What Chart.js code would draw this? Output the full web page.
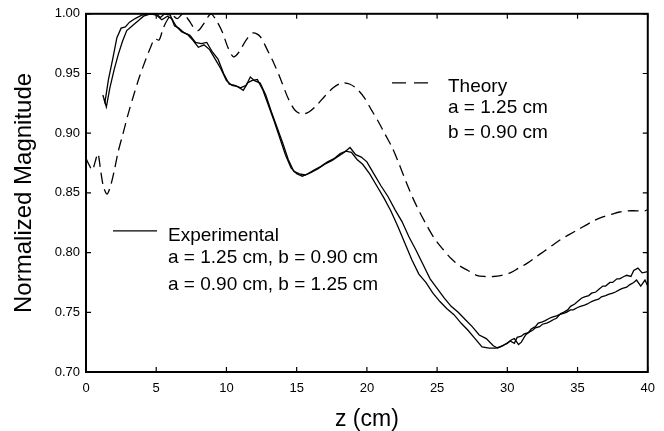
<!DOCTYPE html>
<html>
<head>
<meta charset="utf-8">
<script src="https://cdn.jsdelivr.net/npm/chart.js@4.4.1/dist/chart.umd.min.js"></script>
<style>
  body { margin: 0; background: #fff; }
  canvas { display: block; }
</style>
</head>
<body>
<canvas id="myChart" width="664" height="431"></canvas>
<script>
// theory curve (a = 1.25 cm, b = 0.90 cm)
var theoryZ = [0, 0.2, 0.45, 0.65, 0.85, 1.05, 1.25, 1.5, 1.75, 2.0, 2.3, 2.6, 3.0, 3.4, 3.8, 4.2, 4.6, 4.9, 5.2, 5.5,
  5.8, 6.1, 6.5, 6.9, 7.3, 7.7, 8.0, 8.4, 8.9, 9.3, 9.7, 10.1, 10.5, 10.9, 11.4, 11.9, 12.4, 12.9, 13.4, 13.9,
  14.4, 14.9, 15.4, 15.9, 16.4, 17.0, 17.6, 18.2, 18.8, 19.3, 19.8, 20.3, 20.8, 21.3, 21.8, 22.3, 22.8, 23.3, 23.8, 24.3,
  24.8, 25.4, 26.0, 26.6, 27.2, 27.8, 28.4, 29.0, 29.6, 30.2, 30.8, 31.4, 32.0, 32.6, 33.2, 33.8, 34.4, 35.0, 35.6, 36.2,
  36.8, 37.4, 38.0, 38.6, 39.2, 39.8, 40.0];
var theoryMag = [0.879, 0.874, 0.869, 0.876, 0.883, 0.868, 0.855, 0.849, 0.856, 0.868, 0.885, 0.898, 0.916, 0.932, 0.947, 0.960, 0.972, 0.979, 0.978, 0.988,
  0.995, 0.999, 0.996, 1.000, 0.995, 0.988, 0.986, 0.992, 1.000, 0.994, 0.985, 0.972, 0.964, 0.968, 0.978, 0.984, 0.981, 0.970, 0.958, 0.944,
  0.929, 0.919, 0.916, 0.918, 0.923, 0.931, 0.938, 0.942, 0.941, 0.937, 0.930, 0.920, 0.910, 0.899, 0.888, 0.874, 0.859, 0.845, 0.833, 0.822,
  0.812, 0.803, 0.795, 0.789, 0.785, 0.781, 0.780, 0.780, 0.781, 0.783, 0.787, 0.791, 0.796, 0.801, 0.806, 0.811, 0.815, 0.819, 0.823, 0.827,
  0.830, 0.832, 0.834, 0.835, 0.835, 0.835, 0.836];

// experimental, a = 1.25 cm, b = 0.90 cm
var expAZ = [1.2, 1.35, 1.6, 1.9, 2.2, 2.5, 2.8, 3.1, 3.5, 4.0, 4.5, 5.0, 5.3, 5.6, 6.0, 6.3, 6.6, 7.0, 7.4, 7.8,
  8.2, 8.6, 9.0, 9.4, 9.8, 10.2, 10.6, 11.0, 11.4, 11.7, 12.0, 12.4, 12.8, 13.2, 13.6, 14.0, 14.4, 14.8, 15.2, 15.6,
  16.0, 16.5, 17.0, 17.5, 18.0, 18.4, 18.8, 19.2, 19.6, 20.0, 20.5, 21.0, 21.5, 22.0, 22.5, 23.0, 23.5, 24.0, 24.5, 25.0,
  25.5, 26.0, 26.5, 27.0, 27.5, 28.0, 28.5, 29.0, 29.3, 29.5, 29.8, 30.0, 30.3, 30.5, 30.8, 31.0, 31.3, 31.5, 31.8, 32.0,
  32.3, 32.5, 32.8, 33.0, 33.3, 33.5, 33.8, 34.0, 34.3, 34.5, 34.8, 35.0, 35.3, 35.5, 35.8, 36.0, 36.3, 36.5, 36.8, 37.0,
  37.3, 37.5, 37.8, 38.0, 38.3, 38.5, 38.8, 39.0, 39.3, 39.6, 40.0];
var expAMag = [0.932, 0.926, 0.945, 0.962, 0.980, 0.988, 0.989, 0.993, 0.996, 0.999, 1.000, 1.000, 0.997, 1.000, 0.999, 0.990, 0.988, 0.984, 0.982, 0.976,
  0.975, 0.976, 0.968, 0.962, 0.950, 0.941, 0.940, 0.938, 0.940, 0.947, 0.944, 0.942, 0.932, 0.918, 0.905, 0.892, 0.878, 0.868, 0.866, 0.865,
  0.867, 0.870, 0.874, 0.877, 0.881, 0.884, 0.888, 0.882, 0.880, 0.876, 0.866, 0.856, 0.847, 0.836, 0.826, 0.813, 0.802, 0.790, 0.778, 0.770,
  0.762, 0.755, 0.750, 0.744, 0.738, 0.731, 0.728, 0.722, 0.720, 0.721, 0.723, 0.724, 0.727, 0.728, 0.723, 0.725, 0.731, 0.733, 0.735, 0.737,
  0.738, 0.740, 0.741, 0.742, 0.744, 0.745, 0.749, 0.750, 0.752, 0.755, 0.757, 0.759, 0.762, 0.763, 0.764, 0.766, 0.767, 0.769, 0.772, 0.772,
  0.775, 0.775, 0.778, 0.778, 0.780, 0.781, 0.780, 0.785, 0.787, 0.783, 0.784];

// experimental, a = 0.90 cm, b = 1.25 cm
var expBZ = [1.3, 1.45, 1.7, 2.0, 2.3, 2.6, 2.9, 3.3, 3.7, 4.1, 4.6, 5.0, 5.4, 5.8, 6.1, 6.4, 6.8, 7.2, 7.6, 8.0,
  8.4, 8.8, 9.2, 9.6, 10.0, 10.4, 10.8, 11.2, 11.5, 11.8, 12.2, 12.6, 13.0, 13.4, 13.8, 14.2, 14.6, 15.0, 15.4, 15.8,
  16.2, 16.7, 17.2, 17.7, 18.1, 18.5, 18.9, 19.3, 19.7, 20.2, 20.7, 21.2, 21.7, 22.2, 22.7, 23.2, 23.7, 24.2, 24.7, 25.2,
  25.7, 26.2, 26.7, 27.2, 27.7, 28.2, 28.7, 29.2, 29.7, 30.2, 30.5, 30.7, 31.0, 31.2, 31.5, 31.7, 32.0, 32.2, 32.5, 32.7,
  33.0, 33.2, 33.5, 33.7, 34.0, 34.2, 34.5, 34.7, 35.0, 35.2, 35.5, 35.7, 36.0, 36.2, 36.5, 36.7, 37.0, 37.2, 37.5, 37.7,
  38.0, 38.2, 38.5, 38.7, 39.0, 39.2, 39.5, 39.8, 40.0];
var expBMag = [0.928, 0.922, 0.938, 0.953, 0.966, 0.977, 0.986, 0.990, 0.994, 0.998, 1.000, 0.999, 0.995, 0.998, 0.996, 0.990, 0.985, 0.983, 0.978, 0.972,
  0.974, 0.970, 0.962, 0.954, 0.944, 0.940, 0.939, 0.936, 0.942, 0.944, 0.945, 0.936, 0.923, 0.910, 0.896, 0.882, 0.871, 0.866, 0.864, 0.866,
  0.869, 0.872, 0.876, 0.879, 0.883, 0.885, 0.884, 0.878, 0.874, 0.866, 0.856, 0.846, 0.835, 0.822, 0.808, 0.794, 0.782, 0.775, 0.766, 0.759,
  0.753, 0.748, 0.741, 0.735, 0.728, 0.721, 0.720, 0.720, 0.722, 0.726, 0.724, 0.729, 0.730, 0.732, 0.733, 0.736, 0.738, 0.741, 0.742, 0.743,
  0.745, 0.746, 0.747, 0.748, 0.749, 0.750, 0.752, 0.752, 0.754, 0.755, 0.756, 0.757, 0.759, 0.760, 0.761, 0.763, 0.764, 0.765, 0.766, 0.767,
  0.769, 0.770, 0.771, 0.773, 0.775, 0.777, 0.772, 0.777, 0.772];

var theoryLegend = ['Theory', 'a = 1.25 cm', 'b = 0.90 cm'];
var expLegend = ['Experimental', 'a = 1.25 cm, b = 0.90 cm', 'a = 0.90 cm, b = 1.25 cm'];

function pts(xs, ys) {
  return xs.map(function (x, i) { return {x: x, y: ys[i]}; });
}

var FONT = "'Liberation Sans', Arial, Helvetica, sans-serif";

// box frame, inward ticks and the two text legends
var framePlugin = {
  id: 'frame',
  afterDraw: function (chart) {
    var c = chart.ctx, a = chart.chartArea;
    var xs = chart.scales.x, ys = chart.scales.y;
    c.save();
    c.strokeStyle = '#000';
    c.lineWidth = 2;
    c.strokeRect(a.left, a.top, a.right - a.left, a.bottom - a.top);
    c.lineWidth = 1.2;
    c.beginPath();
    xs.ticks.forEach(function (t) {
      var px = xs.getPixelForValue(t.value);
      c.moveTo(px, a.bottom); c.lineTo(px, a.bottom - 5);
      c.moveTo(px, a.top); c.lineTo(px, a.top + 5);
    });
    ys.ticks.forEach(function (t) {
      var py = ys.getPixelForValue(t.value);
      c.moveTo(a.left, py); c.lineTo(a.left + 5, py);
      c.moveTo(a.right, py); c.lineTo(a.right - 5, py);
    });
    c.stroke();

    c.fillStyle = '#000';
    c.font = '19px ' + FONT;
    c.textBaseline = 'alphabetic';
    c.textAlign = 'left';

    // theory legend
    c.lineWidth = 1.3;
    c.setLineDash([14, 8]);
    c.beginPath();
    c.moveTo(a.left + 306, a.top + 69); c.lineTo(a.left + 344, a.top + 69);
    c.stroke();
    c.setLineDash([]);
    var tb = [78, 99, 124];
    theoryLegend.forEach(function (s, i) { c.fillText(s, a.left + 362, a.top + tb[i]); });

    // experimental legend
    c.beginPath();
    c.moveTo(a.left + 27, a.top + 217); c.lineTo(a.left + 71, a.top + 217);
    c.stroke();
    var eb = [227, 249, 276];
    expLegend.forEach(function (s, i) { c.fillText(s, a.left + 82, a.top + eb[i]); });
    c.restore();
  }
};

var ctx = document.getElementById('myChart').getContext('2d');
var myChart = new Chart(ctx, {
  type: 'line',
  data: {
    datasets: [{
        label: 'Theory',
        data: pts(theoryZ, theoryMag),
        borderColor: '#000',
        borderWidth: 1.3,
        borderDash: [11, 6],
        pointRadius: 0,
        tension: 0.3
      }, {
        label: 'Experimental a = 1.25 cm, b = 0.90 cm',
        data: pts(expAZ, expAMag),
        borderColor: '#000',
        borderWidth: 1.3,
        pointRadius: 0,
        tension: 0
      }, {
        label: 'Experimental a = 0.90 cm, b = 1.25 cm',
        data: pts(expBZ, expBMag),
        borderColor: '#000',
        borderWidth: 1.3,
        pointRadius: 0,
        tension: 0
      }
    ]
  },
  options: {
    responsive: false,
    animation: false,
    layout: { padding: { top: 13, right: 15, left: 0, bottom: 0 } },
    plugins: {
      legend: { display: false },
      tooltip: { enabled: false }
    },
    scales: {
      x: {
        type: 'linear',
        min: 0,
        max: 40,
        afterFit: function (s) { s.height = 59; },
        grid: { display: false, drawTicks: false },
        border: { display: false },
        ticks: { stepSize: 5, padding: 9, color: '#000', font: { family: FONT, size: 13 } },
        title: {
          display: true,
          text: 'z (cm)',
          color: '#000',
          padding: { top: 0, bottom: 0 },
          font: { family: FONT, size: 23, lineHeight: 1 }
        }
      },
      y: {
        min: 0.70,
        max: 1.00,
        afterFit: function (s) { s.width = 86; },
        grid: { display: false, drawTicks: false },
        border: { display: false },
        ticks: {
          stepSize: 0.05,
          padding: 6,
          color: '#000',
          font: { family: FONT, size: 13 },
          callback: function (v) { return v.toFixed(2); }
        },
        title: {
          display: true,
          text: 'Normalized Magnitude',
          color: '#000',
          padding: { top: 12, bottom: 0 },
          font: { family: FONT, size: 24, lineHeight: 1 }
        }
      }
    }
  },
  plugins: [framePlugin]
});
</script>
</body>
</html>
